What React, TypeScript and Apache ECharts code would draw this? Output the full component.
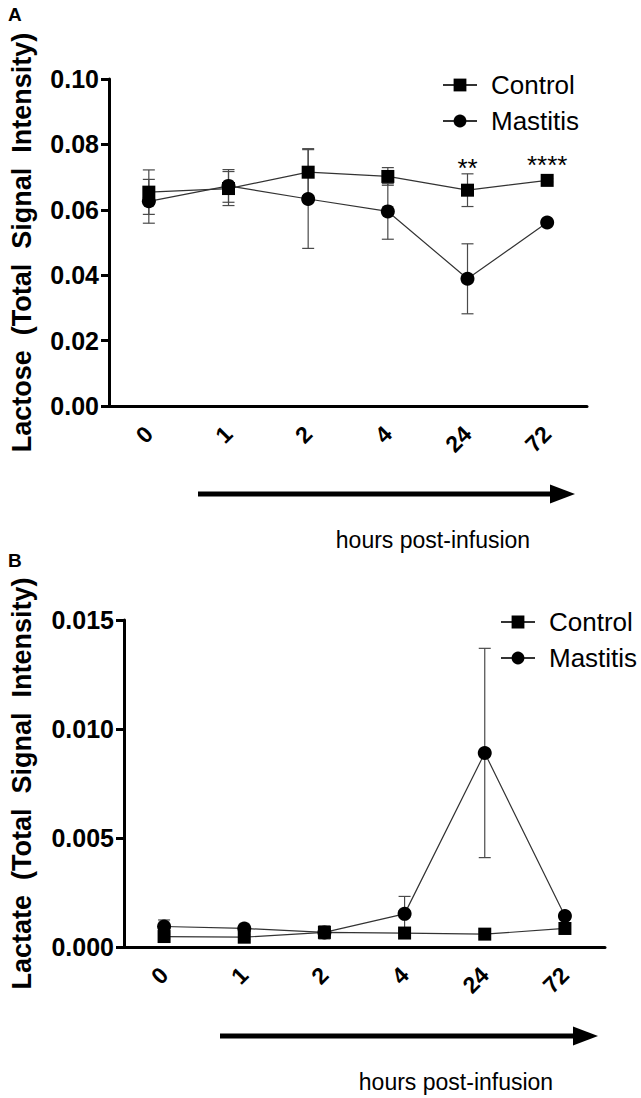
import React, { useEffect, useRef } from "react";
import * as echarts from "echarts";

const categories = ["0", "1", "2", "4", "24", "72"];

const lactoseControl = [0.0654, 0.0665, 0.0715, 0.0702, 0.066, 0.069];
const lactoseControlErr = [0.0068, 0.0052, 0.0072, 0.0027, 0.005, 0.0005];
const lactoseMastitis = [0.0626, 0.0673, 0.0633, 0.0595, 0.0389, 0.0561];
const lactoseMastitisErr = [0.0067, 0.005, 0.0151, 0.0085, 0.0107, 0.0005];

const lactateControl = [0.00048, 0.00045, 0.00067, 0.00064, 0.00059, 0.00085];
const lactateControlErr = [0.0001, 0.0001, 0.0003, 0.0001, 0.0001, 0.0001];
const lactateMastitis = [0.00094, 0.00085, 0.00067, 0.00152, 0.0089, 0.00142];
const lactateMastitisErr = [0.0003, 0.0001, 0.0001, 0.0008, 0.0048, 0.0001];

const seriesNames = ["Control", "Mastitis"];
const significance = [
  { category: "24", value: 0.0728, text: "**" },
  { category: "72", value: 0.0738, text: "****" },
];

const FONT = "'Liberation Sans', Arial, Helvetica, sans-serif";

function errData(mean: number[], err: number[]) {
  return mean.map((m, i) => [i, m - err[i], m + err[i]]);
}

function errorSeries(mean: number[], err: number[], axis: number) {
  return {
    type: "custom",
    xAxisIndex: axis,
    yAxisIndex: axis,
    z: 1,
    silent: true,
    encode: { x: 0, y: [1, 2] },
    data: errData(mean, err),
    renderItem: (params: any, api: any) => {
      const x = api.value(0);
      const lo = api.coord([x, api.value(1)]);
      const hi = api.coord([x, api.value(2)]);
      const w = 6;
      const style = { stroke: "#4a4a4a", lineWidth: 1.2 };
      return {
        type: "group",
        children: [
          { type: "line", shape: { x1: hi[0], y1: hi[1], x2: lo[0], y2: lo[1] }, style },
          { type: "line", shape: { x1: hi[0] - w, y1: hi[1], x2: hi[0] + w, y2: hi[1] }, style },
          { type: "line", shape: { x1: lo[0] - w, y1: lo[1], x2: lo[0] + w, y2: lo[1] }, style },
        ],
      };
    },
  };
}

function lineSeries(name: string, data: number[], axis: number, symbol: string, size: number, extra: any = {}) {
  return {
    name,
    type: "line",
    xAxisIndex: axis,
    yAxisIndex: axis,
    data,
    symbol,
    symbolSize: size,
    z: 3,
    itemStyle: { color: "#000" },
    lineStyle: { color: "#333", width: 1.2 },
    emphasis: { disabled: true },
    ...extra,
  };
}

function xAxis(grid: number) {
  return {
    type: "category",
    gridIndex: grid,
    data: categories,
    boundaryGap: true,
    axisLine: { lineStyle: { color: "#000", width: 3 } },
    axisTick: { alignWithLabel: true, length: 8, lineStyle: { color: "#000", width: 3 } },
    axisLabel: {
      rotate: 45,
      margin: 24,
      color: "#000",
      fontWeight: "bold",
      fontSize: 23,
      fontFamily: FONT,
    },
  };
}

function yAxis(grid: number, max: number, interval: number, digits: number, name: string, gap: number) {
  return {
    type: "value",
    gridIndex: grid,
    min: 0,
    max,
    interval,
    name,
    nameLocation: "middle",
    nameGap: gap,
    nameTextStyle: { color: "#000", fontWeight: "bold", fontSize: 27, fontFamily: FONT },
    splitLine: { show: false },
    axisLine: { show: true, lineStyle: { color: "#000", width: 3 } },
    axisTick: { show: true, length: 8, lineStyle: { color: "#000", width: 3 } },
    axisLabel: {
      margin: 10,
      color: "#000",
      fontWeight: "bold",
      fontSize: 25,
      fontFamily: FONT,
      formatter: (v: number) => v.toFixed(digits),
    },
  };
}

function legend(left: number, top: number) {
  return {
    data: seriesNames,
    orient: "vertical",
    left,
    top,
    itemWidth: 34,
    itemHeight: 16,
    itemGap: 10,
    selectedMode: false,
    textStyle: { color: "#000", fontSize: 26, fontFamily: FONT, lineHeight: 26, padding: [0, 0, 0, 9] },
  };
}

function arrow(x1: number, x2: number, y: number) {
  return [
    { type: "line", shape: { x1, y1: y, x2: x2 - 22, y2: y }, style: { stroke: "#000", lineWidth: 5 } },
    {
      type: "polygon",
      shape: { points: [[x2 - 25, y - 9.5], [x2, y], [x2 - 25, y + 9.5]] },
      style: { fill: "#000" },
    },
  ];
}

export default function App() {
  const ref = useRef<HTMLDivElement>(null);
  useEffect(() => {
    if (!ref.current) return;
    const chart = echarts.init(ref.current, null, { renderer: "svg" });
    const option: any = {
      animation: false,
      backgroundColor: "#fff",
      textStyle: { fontFamily: FONT },
      grid: [
        { left: 98, top: 79, width: 489, height: 327 },
        { left: 113, top: 620, width: 492, height: 327 },
      ],
      xAxis: [xAxis(0), xAxis(1)],
      yAxis: [
        yAxis(0, 0.1, 0.02, 2, "Lactose  (Total  Signal  Intensity)", 74),
        yAxis(1, 0.015, 0.005, 3, "Lactate  (Total  Signal  Intensity)", 89),
      ],
      legend: [legend(437, 67), legend(495, 604)],
      series: [
        errorSeries(lactoseControl, lactoseControlErr, 0),
        errorSeries(lactoseMastitis, lactoseMastitisErr, 0),
        lineSeries("Control", lactoseControl, 0, "rect", 13, {
          markPoint: {
            symbol: "circle",
            symbolSize: 0,
            silent: true,
            label: { show: true, color: "#000", fontSize: 26, fontFamily: FONT, position: "inside" },
            data: significance.map((s) => ({
              coord: [s.category, s.value],
              label: { formatter: s.text },
            })),
          },
        }),
        lineSeries("Mastitis", lactoseMastitis, 0, "circle", 14),
        errorSeries(lactateControl, lactateControlErr, 1),
        errorSeries(lactateMastitis, lactateMastitisErr, 1),
        lineSeries("Control", lactateControl, 1, "rect", 13),
        lineSeries("Mastitis", lactateMastitis, 1, "circle", 14),
      ],
      graphic: [
        { type: "text", left: 8, top: 5, style: { text: "A", fontSize: 19, fontWeight: "bold", fontFamily: FONT, fill: "#000" } },
        { type: "text", left: 8, top: 551, style: { text: "B", fontSize: 19, fontWeight: "bold", fontFamily: FONT, fill: "#000" } },
        ...arrow(198, 575, 494),
        ...arrow(220, 598, 1036),
        {
          type: "text",
          x: 433,
          y: 540,
          style: { text: "hours post-infusion", fontSize: 23, fontFamily: FONT, fill: "#000", align: "center", verticalAlign: "middle" },
        },
        {
          type: "text",
          x: 456,
          y: 1082,
          style: { text: "hours post-infusion", fontSize: 23, fontFamily: FONT, fill: "#000", align: "center", verticalAlign: "middle" },
        },
      ],
    };
    chart.setOption(option);
    return () => chart.dispose();
  }, []);
  return <div ref={ref} style={{ position: "absolute", left: 0, top: 0, width: 641, height: 1098 }} />;
}
